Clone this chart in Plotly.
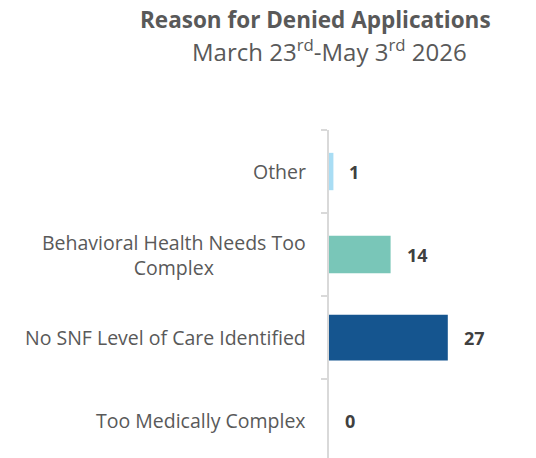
import plotly.graph_objects as go

categories = ["Other", "Behavioral Health Needs Too<br>Complex",
              "No SNF Level of Care Identified", "Too Medically Complex"]
values = [1, 14, 27, 0]
colors = ["#A9DDF4", "#79C6B8", "#15558F", "#15558F"]
bar_widths = [0.45, 0.45, 0.55, 0.55]

FONT = "Open Sans"
L, R, T = 329, 53, 130
PW = 536 - L - R

fig = go.Figure()
fig.add_trace(go.Bar(
    x=values, y=categories, orientation="h",
    marker=dict(color=colors, line=dict(width=0)),
    width=bar_widths, hoverinfo="skip",
))

annotations = []
for c, v in zip(categories, values):
    annotations.append(dict(
        x=v, y=c, xref="x", yref="y", text=f"<b>{v}</b>", showarrow=False,
        xanchor="left", xshift=14, font=dict(family=FONT, size=18, color="#404040")))
    annotations.append(dict(
        x=0, y=c, xref="x", yref="y", text=c, showarrow=False,
        xanchor="right", align="center", xshift=-21,
        font=dict(family=FONT, size=19.5, color="#595959")))

annotations.append(dict(
    x=(315 - L) / PW, y=1, xref="paper", yref="paper", xanchor="center",
    yanchor="middle", yshift=T - 19,
    text="<b>Reason for Denied Applications</b>", showarrow=False,
    font=dict(family=FONT, size=22.5, color="#595959")))
annotations.append(dict(
    x=(329.5 - L) / PW, y=1, xref="paper", yref="paper", xanchor="center",
    yanchor="middle", yshift=T - 50,
    text="March 23<sup>rd</sup>-May 3<sup>rd</sup> 2026", showarrow=False,
    font=dict(family=FONT, size=24, color="#595959")))

fig.update_layout(
    width=536, height=458,
    margin=dict(l=L, r=R, t=T, b=0),
    paper_bgcolor="white", plot_bgcolor="white",
    showlegend=False,
    annotations=annotations,
    xaxis=dict(range=[0, 35], visible=False, fixedrange=True),
    yaxis=dict(
        type="category", categoryorder="array", categoryarray=categories,
        range=[3.45, -0.5], showticklabels=False, fixedrange=True,
        showline=True, linecolor="#D9D9D9", linewidth=2,
        ticks="outside", ticklen=6, tickcolor="#D9D9D9", tickwidth=1.5,
        tickson="boundaries", showgrid=False, zeroline=False,
    ),
)

fig.write_html("out.html", config={"displayModeBar": False},
               post_script="document.body.style.margin='0';document.body.style.padding='0';")
